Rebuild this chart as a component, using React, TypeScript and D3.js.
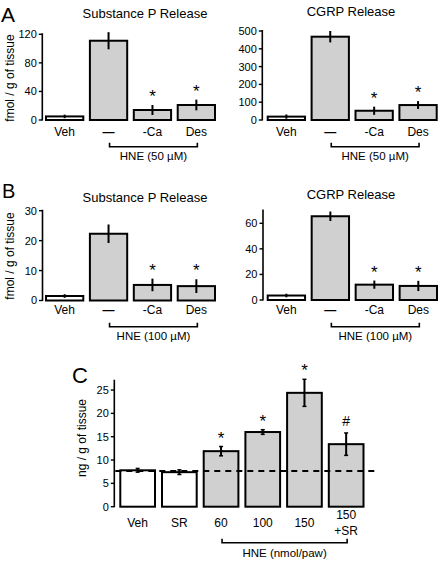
import React from "react";
import * as d3 from "d3";

// ---------- DATA ----------
const catsAB = ["Veh", "—", "-Ca", "Des"];
const filledAB = [false, true, true, true];
const sigAB = ["", "", "*", "*"];

const spA = [5, 111, 14, 21];
const spAErr = [2.5, 12, 7, 7.5];
const cgrpA = [19, 468, 52, 84];
const cgrpAErr = [12, 32, 23, 22];

const spB = [1.5, 22.3, 5.2, 4.8];
const spBErr = [0.6, 3.1, 2.1, 2.3];
const cgrpB = [3.5, 65.5, 12, 11];
const cgrpBErr = [1.4, 3.7, 3.2, 4];

const catsC = ["Veh", "SR", "60", "100", "150", "150\n+SR"];
const filledC = [false, false, true, true, true, true];
const sigC = ["", "", "*", "*", "*", "#"];
const valsC = [7.8, 7.4, 11.9, 16.0, 24.4, 13.4];
const errC = [0.4, 0.5, 1.0, 0.5, 2.9, 2.4];
const baselineC = 7.65;

const ticksA1 = [0, 40, 80, 120];
const ticksA2 = [0, 100, 200, 300, 400, 500];
const ticksB1 = [0, 10, 20, 30];
const ticksB2 = [0, 20, 40, 60];
const ticksC = [0, 5, 10, 15, 20, 25];

const FONT = "'Liberation Sans', Arial, Helvetica, sans-serif";
const GRAY = "#d0d0d0";

type PanelProps = {
  cats: string[];
  vals: number[];
  errs: number[];
  sig: string[];
  filled: boolean[];
  xRange: [number, number];
  pad: number;
  axisX: number;
  yDomain: [number, number];
  yRange: [number, number];
  ticks: number[];
  title?: string;
  titleX?: number;
  titleY?: number;
  catY: number;
  catLine?: number;
  bracket: { from: number; to: number; y: number; textY: number; label: string };
  ylabel?: { text: string; x: number; y: number };
  caps?: boolean;
  dashed?: number;
  dashedTo?: number;
};

function Panel(p: PanelProps) {
  const x = d3
    .scaleBand<string>()
    .domain(p.cats)
    .range(p.xRange)
    .paddingInner(p.pad)
    .paddingOuter(0);
  const y = d3.scaleLinear().domain(p.yDomain).range(p.yRange);
  const bw = x.bandwidth();
  const y0 = y(0);
  const bx0 = x(p.cats[p.bracket.from])! + bw / 2 + 1;
  const bx1 = x(p.cats[p.bracket.to])! + bw / 2 + 1;
  return (
    <g fontFamily={FONT}>
      {p.title && (
        <text x={p.titleX} y={p.titleY} fontSize={13} textAnchor="middle">
          {p.title}
        </text>
      )}
      {p.ylabel && (
        <text
          transform={`translate(${p.ylabel.x},${p.ylabel.y}) rotate(-90)`}
          fontSize={12}
          textAnchor="middle"
        >
          {p.ylabel.text}
        </text>
      )}
      {/* y axis */}
      <line
        x1={p.axisX}
        x2={p.axisX}
        y1={y0 + 0.5}
        y2={p.yRange[1] - 1}
        stroke="#000"
        strokeWidth={1.6}
      />
      {p.ticks.map((t) => (
        <g key={t}>
          <line
            x1={p.axisX - 3.5}
            x2={p.axisX}
            y1={y(t)}
            y2={y(t)}
            stroke="#000"
            strokeWidth={1.4}
          />
          <text
            x={p.axisX - 5.5}
            y={y(t)}
            dy="0.36em"
            fontSize={11}
            textAnchor="end"
          >
            {t}
          </text>
        </g>
      ))}
      {/* bars */}
      {p.cats.map((c, i) => {
        const bx = x(c)!;
        const top = y(p.vals[i]);
        return (
          <rect
            key={c}
            x={bx + 1}
            y={top}
            width={bw - 2}
            height={y0 - top}
            fill={p.filled[i] ? GRAY : "#fff"}
            stroke="#000"
            strokeWidth={2}
          />
        );
      })}
      {p.dashed !== undefined && (
        <line
          x1={p.axisX + 1}
          x2={p.dashedTo}
          y1={y(p.dashed)}
          y2={y(p.dashed)}
          stroke="#000"
          strokeWidth={1.8}
          strokeDasharray="6,5"
        />
      )}
      {/* error bars */}
      {p.cats.map((c, i) => {
        const cx = x(c)! + bw / 2;
        const hi = y(p.vals[i] + p.errs[i]);
        const lo = y(p.vals[i] - p.errs[i]);
        return (
          <g key={c} stroke="#000" strokeWidth={2}>
            <line x1={cx} x2={cx} y1={hi} y2={lo} />
            {p.caps && (
              <>
                <line x1={cx - 2} x2={cx + 2} y1={hi} y2={hi} strokeWidth={1.5} />
                <line x1={cx - 2} x2={cx + 2} y1={lo} y2={lo} strokeWidth={1.5} />
              </>
            )}
          </g>
        );
      })}
      {/* significance marks */}
      {p.cats.map((c, i) => {
        if (!p.sig[i]) return null;
        const cx = x(c)! + bw / 2;
        const hi = y(p.vals[i] + p.errs[i]);
        const isStar = p.sig[i] === "*";
        return (
          <text
            key={c}
            x={cx}
            y={isStar ? hi - 3 : hi - 7}
            fontSize={isStar ? 17 : 14}
            textAnchor="middle"
          >
            {p.sig[i]}
          </text>
        );
      })}
      {/* category labels */}
      {p.cats.map((c) => {
        const cx = x(c)! + bw / 2;
        const lines = c.split("\n");
        if (lines.length > 1) {
          return (
            <text key={c} x={cx} y={p.catY - 8} fontSize={12} textAnchor="middle">
              {lines.map((l, k) => (
                <tspan key={k} x={cx} dy={k === 0 ? 0 : p.catLine ?? 16}>
                  {l}
                </tspan>
              ))}
            </text>
          );
        }
        return (
          <text
            key={c}
            x={cx}
            y={p.catY}
            fontSize={12}
            textAnchor="middle"
            fontWeight={c === "—" ? "bold" : "normal"}
          >
            {c}
          </text>
        );
      })}
      {/* bracket */}
      <path
        d={`M${bx0},${p.bracket.y - 4}V${p.bracket.y}H${bx1}V${p.bracket.y - 4}`}
        fill="none"
        stroke="#000"
        strokeWidth={1.6}
      />
      <text
        x={(bx0 + bx1) / 2}
        y={p.bracket.textY}
        fontSize={11.5}
        textAnchor="middle"
      >
        {p.bracket.label}
      </text>
    </g>
  );
}

export default function App() {
  return (
    <svg
      width={440}
      height={562}
      style={{ position: "absolute", left: 0, top: 0, background: "#fff" }}
    >
      <rect width={440} height={562} fill="#fff" />
      <g fontFamily={FONT}>
        <text x={1} y={22} fontSize={21}>A</text>
        <text x={2} y={198} fontSize={20}>B</text>
        <text x={72} y={383} fontSize={22}>C</text>
      </g>

      <Panel
        cats={catsAB}
        vals={spA}
        errs={spAErr}
        sig={sigAB}
        filled={filledAB}
        xRange={[45, 216]}
        pad={0.105}
        axisX={42.3}
        yDomain={[0, 120]}
        yRange={[120, 34.3]}
        ticks={ticksA1}
        title="Substance P Release"
        titleX={145}
        titleY={18.3}
        catY={136}
        bracket={{ from: 1, to: 3, y: 146.7, textY: 159.5, label: "HNE (50 µM)" }}
        ylabel={{ text: "fmol / g of tissue", x: 13.5, y: 78 }}
      />
      <Panel
        cats={catsAB}
        vals={cgrpA}
        errs={cgrpAErr}
        sig={sigAB}
        filled={filledAB}
        xRange={[266.7, 437.7]}
        pad={0.105}
        axisX={262.3}
        yDomain={[0, 500]}
        yRange={[120, 31]}
        ticks={ticksA2}
        title="CGRP Release"
        titleX={351}
        titleY={16}
        catY={136}
        bracket={{ from: 1, to: 3, y: 146.7, textY: 159.5, label: "HNE (50 µM)" }}
      />
      <Panel
        cats={catsAB}
        vals={spB}
        errs={spBErr}
        sig={sigAB}
        filled={filledAB}
        xRange={[45, 216]}
        pad={0.105}
        axisX={42.5}
        yDomain={[0, 30]}
        yRange={[300.5, 210.7]}
        ticks={ticksB1}
        title="Substance P Release"
        titleX={145}
        titleY={201.5}
        catY={314}
        bracket={{ from: 1, to: 3, y: 326.7, textY: 340, label: "HNE (100 µM)" }}
        ylabel={{ text: "fmol / g of tissue", x: 13.5, y: 256 }}
      />
      <Panel
        cats={catsAB}
        vals={cgrpB}
        errs={cgrpBErr}
        sig={sigAB}
        filled={filledAB}
        xRange={[266.7, 438]}
        pad={0.105}
        axisX={263}
        yDomain={[0, 70]}
        yRange={[300, 210.5]}
        ticks={ticksB2}
        title="CGRP Release"
        titleX={351}
        titleY={199.3}
        catY={314}
        bracket={{ from: 1, to: 3, y: 326.7, textY: 340, label: "HNE (100 µM)" }}
      />
      <Panel
        cats={catsC}
        vals={valsC}
        errs={errC}
        sig={sigC}
        filled={filledC}
        xRange={[119.3, 364.5]}
        pad={0.12}
        axisX={114.3}
        yDomain={[0, 27]}
        yRange={[506.7, 380.7]}
        ticks={ticksC}
        catY={527.3}
        catLine={16}
        bracket={{ from: 2, to: 5, y: 542.7, textY: 557, label: "HNE (nmol/paw)" }}
        ylabel={{ text: "ng / g of tissue", x: 86, y: 438 }}
        caps
        dashed={baselineC}
        dashedTo={375}
      />
    </svg>
  );
}
